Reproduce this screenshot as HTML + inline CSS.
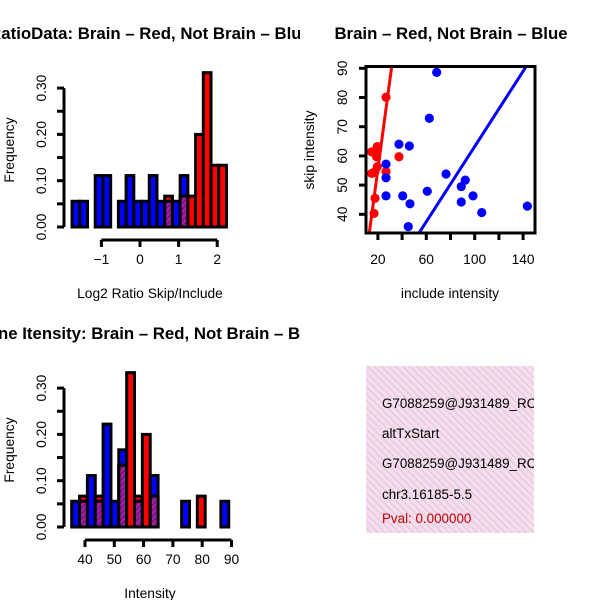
<!DOCTYPE html>
<html><head><meta charset="utf-8">
<style>
html,body{margin:0;padding:0;background:#fff;}
svg{display:block;font-family:"Liberation Sans",sans-serif;}
</style></head>
<body>
<svg id="c" width="600" height="600" viewBox="0 0 600 600" xmlns="http://www.w3.org/2000/svg">
<defs>
<pattern id="purp" patternUnits="userSpaceOnUse" width="4" height="4" patternTransform="rotate(45)">
<rect width="4" height="4" fill="#a020a8"/><rect width="1.5" height="4" fill="#7a1080"/>
</pattern>
<pattern id="pink" patternUnits="userSpaceOnUse" width="5" height="5" patternTransform="rotate(-45)">
<rect width="5" height="5" fill="#fadaf4"/><rect width="1.4" height="5" fill="#dcd4cc"/>
</pattern>
<clipPath id="clipL"><rect x="0" y="0" width="300" height="600"/></clipPath>
<clipPath id="clipBox"><rect x="366" y="66" width="169" height="167"/></clipPath>
<clipPath id="clipInfo"><rect x="366" y="366" width="168" height="167"/></clipPath>
</defs>
<g id="p1"></g><g id="p2"></g><g id="p3"></g><g id="p4"></g>
</svg>
<script>
// ---- Panel 1 data: log2 ratio histogram ----
const ratioBinStart = -1.76;
const ratioBinWidth = 0.2;
const ratioBlueCounts = [1,1,0,2,2,0,1,2,1,1,2,1,1,1,2,0,0,0,0,0];
const ratioRedCounts  = [0,0,0,0,0,0,0,0,0,0,0,0,1,0,1,1,3,5,2,2];
const ratioXTicks = [-1,0,1,2];
const freqTicks = [0,0.05,0.10,0.15,0.20,0.25,0.30];
const freqTickLabels = ["0.00","","0.10","","0.20","","0.30"];
const blueTotal = 18, redTotal = 15;
// ---- Panel 2 data: scatter ----
const redInclude = [14.9,17.6,19.5,18.9,14.9,17.6,19.5,26.7,26.7,17.6,16.8,37.4];
const redSkip    = [61.4,60.9,63.2,59.7,54.0,54.6,56.3,54.6,80.1,45.5,40.3,59.7];
const blueInclude = [68.6,62.5,37.4,46.0,26.7,26.7,26.7,40.5,46.5,45.1,60.8,76.3,92.2,88.9,88.9,98.6,105.8,143.5];
const blueSkip    = [88.6,72.9,64.0,63.4,57.2,52.5,46.3,46.3,43.6,35.8,47.9,53.8,51.7,49.5,44.2,46.3,40.6,42.8];
const redFit = [-6.1, 3.08];
const blueFit = [-1.18, 0.644];
const scXTicks = [20,40,60,80,100,120,140];
const scXTickLabels = ["20","","60","","100","","140"];
const scYTicks = [40,50,60,70,80,90];
// ---- Panel 3 data: intensity histogram ----
const intBinStart = 35.46;
const intBinWidth = 2.68;
const intBlueCounts = [1,1,2,1,4,1,3,0,1,0,2,0,0,0,1,0,0,0,0,1];
const intRedCounts  = [0,1,0,1,0,0,2,5,1,3,1,0,0,0,0,0,1,0,0,0];
const intXTicks = [40,50,60,70,80,90];
// ---- Panel 4 text ----
const infoLines = ["G7088259@J931489_RC","altTxStart","G7088259@J931489_RC","chr3.16185-5.5"];
const pvalText = "Pval: 0.000000";

const FS = 13.8, TFS = 16.8;
const NS="http://www.w3.org/2000/svg";
function mk(parent,tag,attrs,text){const e=document.createElementNS(NS,tag);for(const k in attrs)e.setAttribute(k,attrs[k]);if(text!==undefined)e.textContent=text;parent.appendChild(e);return e;}

function histogram(g, opt){
  const sx=v=>opt.x0px+(v-opt.x0)*opt.pxPerX;
  const sy=v=>opt.y0px-v*opt.pxPerY;
  let t=mk(g,'text',{x:150,y:opt.titleY,'text-anchor':'middle','font-size':TFS,'font-weight':'bold','clip-path':'url(#clipL)'},opt.title);
  
  
  const n=opt.blue.length;
  for(let i=0;i<n;i++){
    const l=sx(opt.start+i*opt.w), r=sx(opt.start+(i+1)*opt.w);
    const b=opt.blue[i]/blueTotal, rd=opt.red[i]/redTotal;
    const mn=Math.min(b,rd);
    const draw=(v,fill,name)=>{ if(v<=0)return; const e=mk(g,'rect',{x:l,y:sy(v),width:r-l,height:sy(0)-sy(v),fill:fill,stroke:'#000','stroke-width':3});
      
       };
    if(b>=rd){ draw(b,'#0000ff','bar-blue'); draw(rd,'#ff0000','bar-red'); }
    else { draw(rd,'#ff0000','bar-red'); draw(b,'#0000ff','bar-blue'); }
    if(mn>0){ const e=mk(g,'rect',{x:l,y:sy(mn),width:r-l,height:sy(0)-sy(mn),fill:'url(#purp)',stroke:'#000','stroke-width':3});
      
       }
  }
  const ax=opt.yAxisX;
  mk(g,'line',{x1:ax,x2:ax,y1:sy(0),y2:sy(0.30),stroke:'#000','stroke-width':3});
  freqTicks.forEach((v,i)=>{
    mk(g,'line',{x1:ax-7,x2:ax,y1:sy(v),y2:sy(v),stroke:'#000','stroke-width':3});
    if(freqTickLabels[i]){const tl=mk(g,'text',{x:0,y:0,transform:`translate(${ax-18},${sy(v)}) rotate(-90)`,'text-anchor':'middle','font-size':FS},freqTickLabels[i]);
      
      }
  });
  const ay=opt.xAxisY;
  mk(g,'line',{x1:sx(opt.xticks[0]),x2:sx(opt.xticks[opt.xticks.length-1]),y1:ay,y2:ay,stroke:'#000','stroke-width':3});
  opt.xticks.forEach(v=>{
    mk(g,'line',{x1:sx(v),x2:sx(v),y1:ay,y2:ay+7,stroke:'#000','stroke-width':3});
    const tl=mk(g,'text',{x:sx(v),y:ay+24,'text-anchor':'middle','font-size':FS},v<0?'\u2212'+Math.abs(v):String(v));
    
    
  });
  const xl=mk(g,'text',{x:150,y:opt.xlabY,'text-anchor':'middle','font-size':FS},opt.xlab);
  
  
  const yl=mk(g,'text',{x:0,y:0,transform:`translate(14,${opt.y0px-77}) rotate(-90)`,'text-anchor':'middle','font-size':FS},'Frequency');
  
  
}

histogram(document.getElementById('p1'),{
  title:'RatioData: Brain \u2013 Red, Not Brain \u2013 Blue',titleY:39,
  x0:0,x0px:140,pxPerX:38.6,y0px:227,pxPerY:463,
  start:ratioBinStart,w:ratioBinWidth,blue:ratioBlueCounts,red:ratioRedCounts,
  yAxisX:64,xAxisY:240,xticks:ratioXTicks,xlab:'Log2 Ratio Skip/Include',xlabY:298});
histogram(document.getElementById('p3'),{
  title:'Gene Itensity: Brain \u2013 Red, Not Brain \u2013 Blue',titleY:339,
  x0:40,x0px:85,pxPerX:2.93,y0px:527,pxPerY:463,
  start:intBinStart,w:intBinWidth,blue:intBlueCounts,red:intRedCounts,
  yAxisX:64,xAxisY:540,xticks:intXTicks,xlab:'Intensity',xlabY:598});

(function(){
  const g=document.getElementById('p2');
  const sx=v=>353.7+v*1.21;
  const sy=v=>68.3+(90-v)*2.92;
  const t=mk(g,'text',{x:451,y:39,'text-anchor':'middle','font-size':TFS,'font-weight':'bold'},'Brain \u2013 Red, Not Brain \u2013 Blue');
  
  
  const pts=mk(g,'g',{'clip-path':'url(#clipBox)'});
  redInclude.forEach((x,i)=>{const c=mk(pts,'circle',{cx:sx(x),cy:sy(redSkip[i]),r:4.6,fill:'#ff0000'});
    
    });
  blueInclude.forEach((x,i)=>{const c=mk(pts,'circle',{cx:sx(x),cy:sy(blueSkip[i]),r:4.6,fill:'#0000ff'});
    
    });
  const fit=(f,col,name)=>{const xa=0,xb=160;const l=mk(pts,'line',{x1:sx(xa),y1:sy(f[0]+f[1]*xa),x2:sx(xb),y2:sy(f[0]+f[1]*xb),stroke:col,'stroke-width':3});
    
    };
  fit(redFit,'#ff0000','fit-line-red');
  fit(blueFit,'#0000ff','fit-line-blue');
  const box=mk(g,'rect',{x:366,y:66.5,width:169,height:166.5,fill:'none',stroke:'#000','stroke-width':3});
  
  
  scXTicks.forEach((v,i)=>{
    mk(g,'line',{x1:sx(v),x2:sx(v),y1:233,y2:240,stroke:'#000','stroke-width':3});
    if(scXTickLabels[i]){const tl=mk(g,'text',{x:sx(v),y:264,'text-anchor':'middle','font-size':FS},scXTickLabels[i]);
      
      }
  });
  scYTicks.forEach(v=>{
    mk(g,'line',{x1:359,x2:366,y1:sy(v),y2:sy(v),stroke:'#000','stroke-width':3});
    const tl=mk(g,'text',{x:0,y:0,transform:`translate(347,${sy(v)}) rotate(-90)`,'text-anchor':'middle','font-size':FS},String(v));
    
    
  });
  const xl=mk(g,'text',{x:450,y:298,'text-anchor':'middle','font-size':FS},'include intensity');
  
  
  const yl=mk(g,'text',{x:0,y:0,transform:'translate(314,150) rotate(-90)','text-anchor':'middle','font-size':FS},'skip intensity');
  
  
})();

(function(){
  const g=document.getElementById('p4');
  const bg=mk(g,'rect',{x:366,y:366,width:168,height:167,fill:'url(#pink)'});
  
  
  const tg=mk(g,'g',{'clip-path':'url(#clipInfo)'});
  const ys=[408,438,468,499];
  infoLines.forEach((s,i)=>{const t=mk(tg,'text',{x:382,y:ys[i],'font-size':13.4,fill:'#000'},s);
    
    });
  const p=mk(tg,'text',{x:382,y:523,'font-size':13.4,fill:'#c00000'},pvalText);
  
  
})();
</script>
</body></html>
